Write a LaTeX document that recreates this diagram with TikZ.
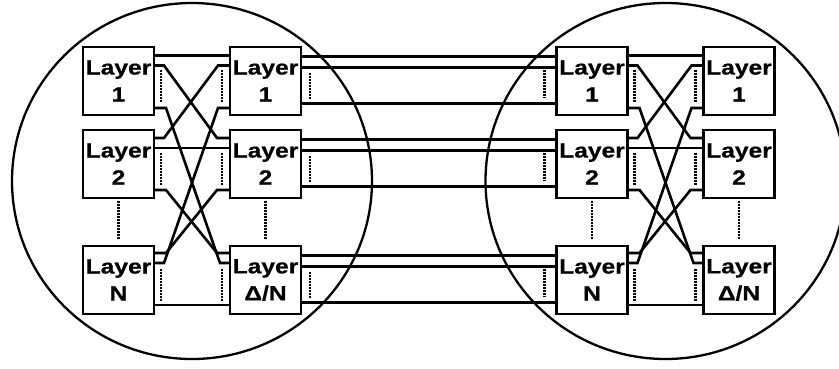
\documentclass[tikz,border=0pt]{standalone}
\usepackage{fontspec}
\newfontfamily\labelfont{Liberation Sans}[FakeStretch=1.2, BoldFeatures={FakeBold=0.6}]
\usetikzlibrary{calc}
\tikzset{
  layerbox/.style={draw, line width=2.8pt, minimum width=71pt, minimum height=68pt,
    outer sep=0pt, inner sep=0pt, anchor=north west, align=center,
    font=\labelfont\bfseries\fontsize{20.5}{27}\selectfont},
  wire/.style={line width=2.6pt},
  dots/.style={line width=2.6pt, dash pattern=on 1.5pt off 1.5pt},
  ring/.style={line width=2.3pt},
}
% Full mesh between the two columns of one group (#1 = left column, #2 = right column)
\newcommand\meshwiring[2]{%
  \draw[wire] ($(#11.north east)+(0,8.5)$) -- ($(#21.north west)+(0,8.5)$);
  \draw[wire] ($(#12.north east)+(0,18)$) -- ($(#22.north west)+(0,18)$);
  \draw[wire] ($(#1N.north east)+(0,59)$) -- ($(#2N.north west)+(0,59)$);
  \draw[wire] ($(#11.north east)+(0,18.5)$) -- ++(10,0) -- ($(#22.north west)+(-13,8)$) -- ++(13,0);
  \draw[wire] ($(#21.north west)+(0,18.5)$) -- ++(-12,0) -- ($(#12.north east)+(10,8)$) -- ++(-10,0);
  \draw[wire] ($(#11.north east)+(0,61)$) -- ++(12,0) -- ($(#2N.north west)+(-10,17)$) -- ++(10,0);
  \draw[wire] ($(#21.north west)+(0,61)$) -- ++(-12,0) -- ($(#1N.north east)+(10,17)$) -- ++(-10,0);
  \draw[wire] ($(#12.north east)+(0,60)$) -- ++(12,0) -- ($(#2N.north west)+(-13,7)$) -- ++(13,0);
  \draw[wire] ($(#22.north west)+(0,60)$) -- ++(-13,0) -- ($(#1N.north east)+(12,7)$) -- ++(-12,0);
  \foreach \k in {1,2,N}{
    \draw[dots] ($(#1\k.north east)+(7,23)$) -- ++(0,33);
    \draw[dots] ($(#2\k.north west)+(-8,23)$) -- ++(0,33);
  }
  \draw[dots] ($(#12.south)+(0,3)$) -- ($(#1N.north)+(0,-7)$);
  \draw[dots] ($(#22.south)+(0,3)$) -- ($(#2N.north)+(0,-7)$);
}
\begin{document}
\begin{tikzpicture}[x=1pt, y=-1pt]
  \useasboundingbox (0,0) rectangle (839,368);
  % the two groups
  \draw[ring] (192,181) ellipse [x radius=180pt, y radius=178pt];
  \draw[ring] (665.5,181) ellipse [x radius=180pt, y radius=178pt];
  % layer boxes
  \node[layerbox] (a1) at (83,47)  {Layer\\1};
  \node[layerbox] (a2) at (83,130) {Layer\\2};
  \node[layerbox] (aN) at (83,246) {Layer\\N};
  \node[layerbox] (b1) at (230,47)  {Layer\\1};
  \node[layerbox] (b2) at (230,130) {Layer\\2};
  \node[layerbox] (bN) at (230,246) {Layer\\Δ/N};
  \node[layerbox] (c1) at (556.5,47)  {Layer\\1};
  \node[layerbox] (c2) at (556.5,130) {Layer\\2};
  \node[layerbox] (cN) at (556.5,246) {Layer\\N};
  \node[layerbox] (d1) at (703.5,47)  {Layer\\1};
  \node[layerbox] (d2) at (703.5,130) {Layer\\2};
  \node[layerbox] (dN) at (703.5,246) {Layer\\Δ/N};
  % wiring inside each group
  \meshwiring{a}{b}
  \meshwiring{c}{d}
  % links between the groups
  \foreach \k in {1,2,N}{
    \draw[wire] ($(b\k.north east)+(0,9.5)$) -- ($(c\k.north west)+(0,9.5)$);
    \draw[wire] ($(b\k.north east)+(0,20.5)$) -- ($(c\k.north west)+(0,20.5)$);
    \draw[wire] ($(b\k.north east)+(0,56.5)$) -- ($(c\k.north west)+(0,56.5)$);
    \draw[dots] ($(b\k.north east)+(9,26)$) -- ++(0,27);
    \draw[dots] ($(c\k.north west)+(-12,23)$) -- ++(0,28);
  }
\end{tikzpicture}
\end{document}
